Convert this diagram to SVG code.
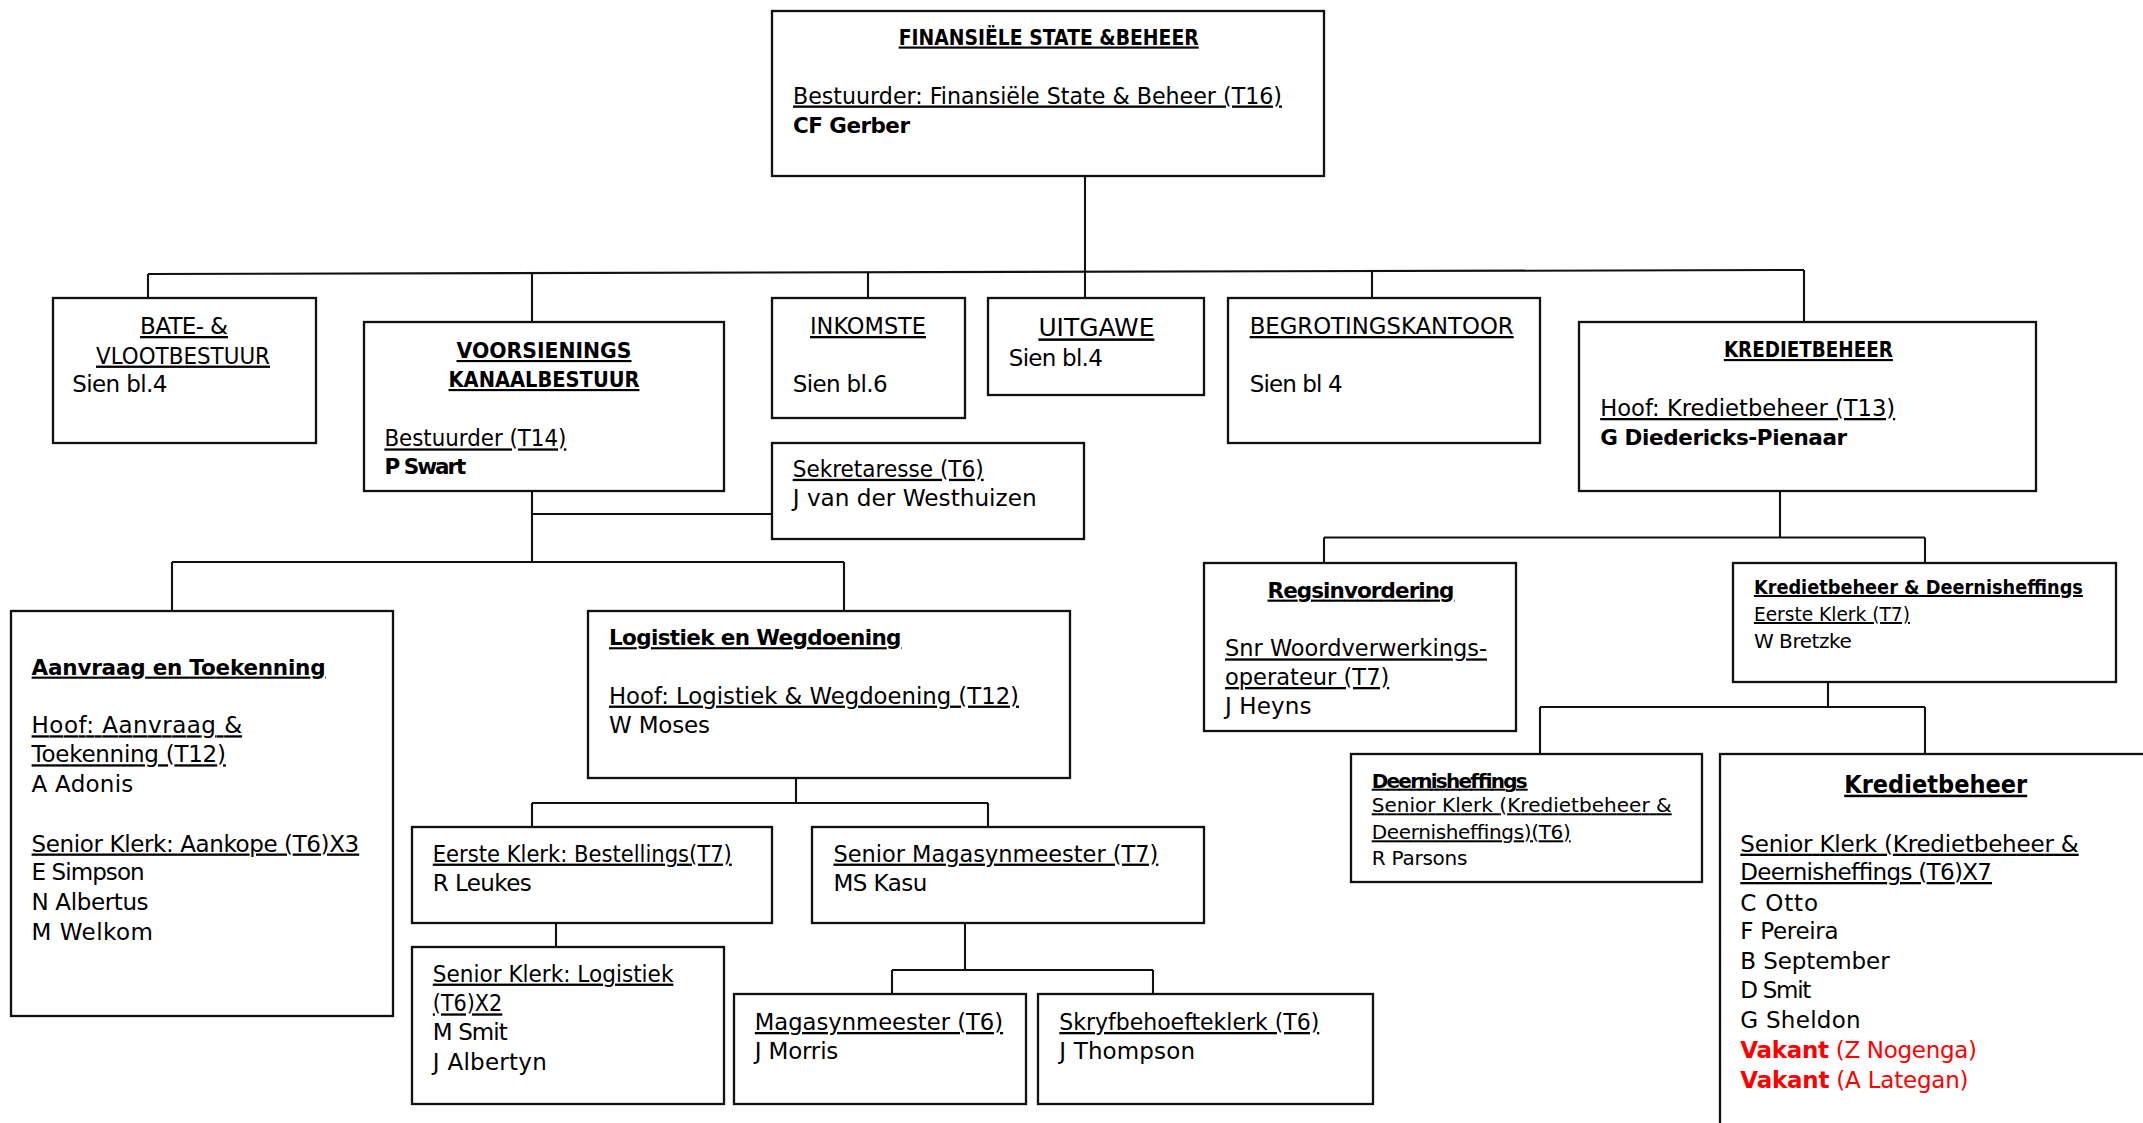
<svg xmlns="http://www.w3.org/2000/svg" width="2143" height="1123" viewBox="0 0 2143 1123">
<style>
.bx{fill:#fff;stroke:#111;stroke-width:2.3}
.ln{fill:none;stroke:#111;stroke-width:2.1}
text{font-family:"DejaVu Sans","Liberation Sans",sans-serif;font-size:23px;fill:#000}
.bd{font-weight:bold;font-size:21.5px}
.u{text-decoration:underline}
.c{text-anchor:middle}
.s{font-size:20px}
.sb{font-weight:bold;font-size:20px}
.red{fill:#ff0000}
</style>
<rect width="2143" height="1123" fill="#fff"/>

<g id="connectors">
<path class="ln" d="M1085 176 V298"/>
<path class="ln" d="M148 274 L1804 270"/>
<path class="ln" d="M148 274 V298 M532 273 V322 M868 272 V298 M1372 271 V298 M1804 270 V322"/>
<path class="ln" d="M532 491 V562 M532 514 H772 M172 562 H844 M172 562 V611 M844 562 V611"/>
<path class="ln" d="M796 778 V803 M532 803 H988 M532 803 V827 M988 803 V827"/>
<path class="ln" d="M556 922 V947"/>
<path class="ln" d="M965 922 V970 M892 970 H1153 M892 970 V994 M1153 970 V994"/>
<path class="ln" d="M1780 491 V537.5 M1324 537.5 H1925 M1324 537.5 V563 M1925 537.5 V563"/>
<path class="ln" d="M1828 682 V707 M1540 707 H1925 M1540 707 V754 M1925 707 V754"/>
</g>

<g id="n-top">
<rect class="bx" x="772" y="11" width="552" height="165"/>
<text class="bd u c" x="1048.7" y="44.5" textLength="300" lengthAdjust="spacingAndGlyphs">FINANSIËLE STATE &amp;BEHEER</text>
<text class="u" x="793" y="103.5" textLength="489" lengthAdjust="spacingAndGlyphs">Bestuurder: Finansiële State &amp; Beheer (T16)</text>
<text class="bd" x="793" y="133" textLength="117">CF Gerber</text>
</g>

<g id="n-bate">
<rect class="bx" x="53" y="298" width="263" height="145"/>
<text class="u c" x="184" y="334" textLength="88">BATE- &amp;</text>
<text class="u c" x="183" y="363.6" textLength="174" lengthAdjust="spacingAndGlyphs">VLOOTBESTUUR</text>
<text x="72.3" y="392" textLength="95">Sien bl.4</text>
</g>

<g id="n-voorsienings">
<rect class="bx" x="364" y="322" width="360" height="169"/>
<text class="bd u c" x="544" y="358" textLength="175" lengthAdjust="spacingAndGlyphs">VOORSIENINGS</text>
<text class="bd u c" x="544" y="387" textLength="191" lengthAdjust="spacingAndGlyphs">KANAALBESTUUR</text>
<text class="u" x="384.4" y="446.4" textLength="182" lengthAdjust="spacingAndGlyphs">Bestuurder (T14)</text>
<text class="bd" x="384.4" y="474.3" textLength="82">P Swart</text>
</g>

<g id="n-inkomste">
<rect class="bx" x="772" y="298" width="193" height="120"/>
<text class="u c" x="868" y="334" textLength="116" lengthAdjust="spacingAndGlyphs">INKOMSTE</text>
<text x="792.7" y="392" textLength="95">Sien bl.6</text>
</g>

<g id="n-uitgawe">
<rect class="bx" x="988" y="298" width="216" height="97"/>
<text class="u c" x="1096.4" y="336.4" style="font-size:25px" textLength="116" lengthAdjust="spacingAndGlyphs">UITGAWE</text>
<text x="1008.8" y="366" textLength="94">Sien bl.4</text>
</g>

<g id="n-begroting">
<rect class="bx" x="1228" y="298" width="312" height="145"/>
<text class="u" x="1249.7" y="334" textLength="264" lengthAdjust="spacingAndGlyphs">BEGROTINGSKANTOOR</text>
<text x="1249.7" y="392" textLength="93">Sien bl 4</text>
</g>

<g id="n-krediet">
<rect class="bx" x="1579" y="322" width="457" height="169"/>
<text class="bd u c" x="1808.4" y="357" textLength="169" lengthAdjust="spacingAndGlyphs">KREDIETBEHEER</text>
<text class="u" x="1600.2" y="416" textLength="295" lengthAdjust="spacingAndGlyphs">Hoof: Kredietbeheer (T13)</text>
<text class="bd" x="1600.2" y="444.6" textLength="247">G Diedericks-Pienaar</text>
</g>

<g id="n-sekretaresse">
<rect class="bx" x="772" y="443" width="312" height="96"/>
<text class="u" x="792.7" y="476.8" textLength="191" lengthAdjust="spacingAndGlyphs">Sekretaresse (T6)</text>
<text x="792.7" y="506.4" textLength="244" lengthAdjust="spacingAndGlyphs">J van der Westhuizen</text>
</g>

<g id="n-aanvraag">
<rect class="bx" x="11" y="611" width="382" height="405"/>
<text class="bd u" x="31.6" y="674.6" textLength="294">Aanvraag en Toekenning</text>
<text class="u" x="31.6" y="733.3" textLength="210.5">Hoof: Aanvraag &amp;</text>
<text class="u" x="31.6" y="762.3" textLength="194.3">Toekenning (T12)</text>
<text x="31.6" y="792" textLength="101.7">A Adonis</text>
<text class="u" x="31.6" y="851.5" textLength="327.6">Senior Klerk: Aankope (T6)X3</text>
<text x="31.6" y="880.1" textLength="113">E Simpson</text>
<text x="31.6" y="909.9" textLength="117">N Albertus</text>
<text x="31.6" y="939.6" textLength="121.4">M Welkom</text>
</g>

<g id="n-logistiek">
<rect class="bx" x="588" y="611" width="482" height="167"/>
<text class="bd u" x="609" y="645.2" textLength="292.5">Logistiek en Wegdoening</text>
<text class="u" x="609" y="703.6" textLength="410" lengthAdjust="spacingAndGlyphs">Hoof: Logistiek &amp; Wegdoening (T12)</text>
<text x="609" y="733.3" textLength="101">W Moses</text>
</g>

<g id="n-bestellings">
<rect class="bx" x="412" y="827" width="360" height="96"/>
<text class="u" x="432.8" y="861.6" textLength="299" lengthAdjust="spacingAndGlyphs">Eerste Klerk: Bestellings(T7)</text>
<text x="432.8" y="890.6" textLength="99">R Leukes</text>
</g>

<g id="n-senior-magasynmeester">
<rect class="bx" x="812" y="827" width="392" height="96"/>
<text class="u" x="833.4" y="861.6" textLength="325" lengthAdjust="spacingAndGlyphs">Senior Magasynmeester (T7)</text>
<text x="833.4" y="890.6" textLength="94">MS Kasu</text>
</g>

<g id="n-senior-klerk-logistiek">
<rect class="bx" x="412" y="947" width="312" height="157"/>
<text class="u" x="432.8" y="981.6" textLength="240.6" lengthAdjust="spacingAndGlyphs">Senior Klerk: Logistiek</text>
<text class="u" x="432.8" y="1011.4" textLength="69.5" lengthAdjust="spacingAndGlyphs">(T6)X2</text>
<text x="432.8" y="1040" textLength="75">M Smit</text>
<text x="432.8" y="1069.7" textLength="114">J Albertyn</text>
</g>

<g id="n-magasynmeester">
<rect class="bx" x="734" y="994" width="292" height="110"/>
<text class="u" x="754.8" y="1030" textLength="248.3" lengthAdjust="spacingAndGlyphs">Magasynmeester (T6)</text>
<text x="754.8" y="1059.3" textLength="83.5">J Morris</text>
</g>

<g id="n-skryfbehoefteklerk">
<rect class="bx" x="1038" y="994" width="335" height="110"/>
<text class="u" x="1059.3" y="1030" textLength="260" lengthAdjust="spacingAndGlyphs">Skryfbehoefteklerk (T6)</text>
<text x="1059.3" y="1059.3" textLength="135.7">J Thompson</text>
</g>

<g id="n-regsinvordering">
<rect class="bx" x="1204" y="563" width="312" height="168"/>
<text class="bd u c" x="1361" y="597.6" textLength="187">Regsinvordering</text>
<text class="u" x="1225" y="656.4" textLength="262" lengthAdjust="spacingAndGlyphs">Snr Woordverwerkings-</text>
<text class="u" x="1225" y="685" textLength="164.3" lengthAdjust="spacingAndGlyphs">operateur (T7)</text>
<text x="1225" y="714" textLength="86.5">J Heyns</text>
</g>

<g id="n-krediet-deernisheffings">
<rect class="bx" x="1733" y="563" width="383" height="119"/>
<text class="sb u" x="1753.9" y="594" textLength="329" lengthAdjust="spacingAndGlyphs">Kredietbeheer &amp; Deernisheffings</text>
<text class="s u" x="1753.9" y="621" textLength="156" lengthAdjust="spacingAndGlyphs">Eerste Klerk (T7)</text>
<text class="s" x="1753.9" y="648" textLength="97.8">W Bretzke</text>
</g>

<g id="n-deernisheffings">
<rect class="bx" x="1351" y="754" width="351" height="128"/>
<text class="sb u" x="1371.7" y="787.7" textLength="156">Deernisheffings</text>
<text class="s u" x="1371.7" y="812.3" textLength="300">Senior Klerk (Kredietbeheer &amp;</text>
<text class="s u" x="1371.7" y="839.3" textLength="199">Deernisheffings)(T6)</text>
<text class="s" x="1371.7" y="865" textLength="95.7">R Parsons</text>
</g>

<g id="n-kredietbeheer">
<rect class="bx" x="1720" y="754" width="460" height="420"/>
<text class="bd u c" x="1935.7" y="792.7" style="font-size:25px" textLength="183" lengthAdjust="spacingAndGlyphs">Kredietbeheer</text>
<text class="u" x="1740.3" y="851.7" textLength="338.4">Senior Klerk (Kredietbeheer &amp;</text>
<text class="u" x="1740.3" y="880" textLength="251.7">Deernisheffings (T6)X7</text>
<text x="1740.3" y="910.7" textLength="77.7">C Otto</text>
<text x="1740.3" y="939.3" textLength="98.3">F Pereira</text>
<text x="1740.3" y="969.3" textLength="149.3">B September</text>
<text x="1740.3" y="998.3" textLength="71">D Smit</text>
<text x="1740.3" y="1028.3" textLength="120.3">G Sheldon</text>
<text class="red" x="1740.3" y="1058.3" textLength="236.7"><tspan font-weight="bold">Vakant</tspan> (Z Nogenga)</text>
<text class="red" x="1740.3" y="1088.3" textLength="228.3"><tspan font-weight="bold">Vakant</tspan> (A Lategan)</text>
</g>
</svg>
